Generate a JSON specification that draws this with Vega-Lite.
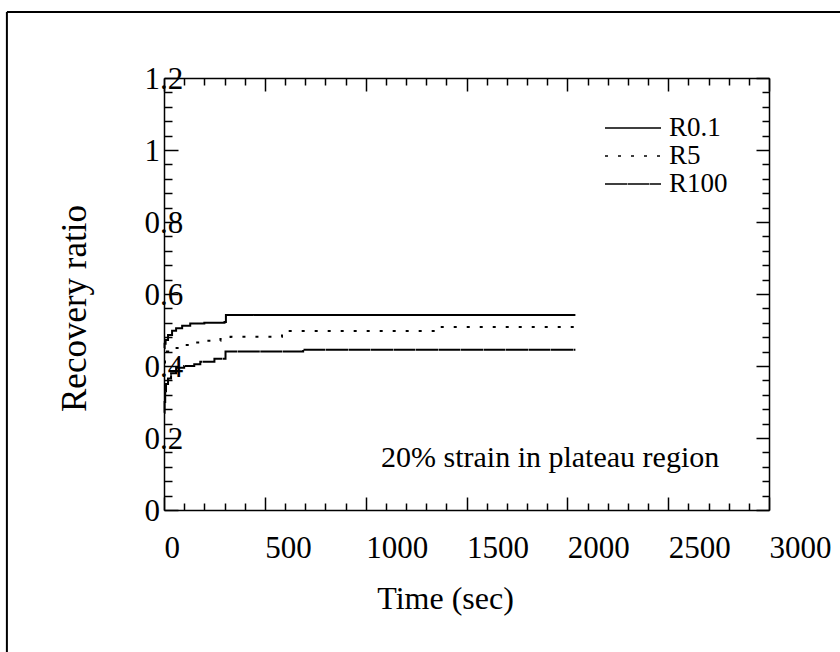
{
  "$schema": "https://vega.github.io/schema/vega-lite/v6.json",
  "usermeta": {"embedOptions": {"actions": false}},
  "width": 605,
  "height": 432,
  "autosize": {"type": "none"},
  "padding": {"left": 164, "top": 78, "right": 71, "bottom": 142},
  "background": "white",
  "config": {
    "view": {"stroke": null},
    "font": "Liberation Serif",
    "axis": {
      "grid": false,
      "domainColor": "black",
      "domainWidth": 1.5,
      "tickColor": "black",
      "tickWidth": 1.5,
      "labelColor": "black",
      "titleColor": "black",
      "labelFont": "Liberation Serif",
      "titleFont": "Liberation Serif",
      "titleFontWeight": "normal",
      "labelFlush": false,
      "labelOverlap": false,
      "labelBound": false
    }
  },
  "datasets": {
    "recovery": [
      {"t": 0, "r": 0.45, "s": "R0.1"},
      {"t": 3, "r": 0.462, "s": "R0.1"},
      {"t": 8, "r": 0.472, "s": "R0.1"},
      {"t": 20, "r": 0.486, "s": "R0.1"},
      {"t": 40, "r": 0.498, "s": "R0.1"},
      {"t": 60, "r": 0.505, "s": "R0.1"},
      {"t": 90, "r": 0.512, "s": "R0.1"},
      {"t": 130, "r": 0.518, "s": "R0.1"},
      {"t": 200, "r": 0.52, "s": "R0.1"},
      {"t": 300, "r": 0.522, "s": "R0.1"},
      {"t": 307, "r": 0.542, "s": "R0.1"},
      {"t": 2040, "r": 0.542, "s": "R0.1"},

      {"t": 0, "r": 0.41, "s": "R5"},
      {"t": 5, "r": 0.425, "s": "R5"},
      {"t": 15, "r": 0.44, "s": "R5"},
      {"t": 40, "r": 0.45, "s": "R5"},
      {"t": 90, "r": 0.458, "s": "R5"},
      {"t": 140, "r": 0.465, "s": "R5"},
      {"t": 200, "r": 0.47, "s": "R5"},
      {"t": 280, "r": 0.475, "s": "R5"},
      {"t": 330, "r": 0.481, "s": "R5"},
      {"t": 585, "r": 0.497, "s": "R5"},
      {"t": 1345, "r": 0.508, "s": "R5"},
      {"t": 2040, "r": 0.508, "s": "R5"},

      {"t": 0, "r": 0.27, "s": "R100"},
      {"t": 3, "r": 0.3, "s": "R100"},
      {"t": 6, "r": 0.33, "s": "R100"},
      {"t": 10, "r": 0.35, "s": "R100"},
      {"t": 20, "r": 0.365, "s": "R100"},
      {"t": 35, "r": 0.38, "s": "R100"},
      {"t": 60, "r": 0.395, "s": "R100"},
      {"t": 100, "r": 0.4, "s": "R100"},
      {"t": 150, "r": 0.405, "s": "R100"},
      {"t": 180, "r": 0.412, "s": "R100"},
      {"t": 250, "r": 0.42, "s": "R100"},
      {"t": 305, "r": 0.44, "s": "R100"},
      {"t": 690, "r": 0.445, "s": "R100"},
      {"t": 2040, "r": 0.445, "s": "R100"}
    ]
  },
  "layer": [
    {
      "description": "Page frame, left edge, carrying the mirrored right axis",
      "data": {"values": [{}]},
      "mark": {"type": "rule", "stroke": "black", "strokeWidth": 2, "clip": false},
      "encoding": {
        "x": {"datum": -779, "type": "quantitative", "scale": {"domain": [0, 3000], "nice": false, "zero": false}, "axis": null},
        "y": {
          "datum": -1,
          "type": "quantitative",
          "scale": {"domain": [0, 1.2], "nice": false, "zero": false},
          "axis": {
            "orient": "right",
            "title": null,
            "labels": false,
            "tickSize": {"condition": {"test": "round(datum.value * 100) % 20 === 0", "value": -13}, "value": -7},
            "values": [0,0.04,0.08,0.12,0.16,0.2,0.24,0.28,0.32,0.36,0.4,0.44,0.48,0.52,0.56,0.6,0.64,0.68,0.72,0.76,0.8,0.84,0.88,0.92,0.96,1,1.04,1.08,1.12,1.16,1.2]
          }
        },
        "y2": {"datum": 1.3833}
      }
    },
    {
      "description": "Page frame, top edge, carrying the mirrored top axis",
      "data": {"values": [{}]},
      "mark": {"type": "rule", "stroke": "black", "strokeWidth": 2, "clip": false},
      "encoding": {
        "x": {
          "datum": -779,
          "type": "quantitative",
          "scale": {"domain": [0, 3000], "nice": false, "zero": false},
          "axis": {
            "orient": "top",
            "title": null,
            "labels": false,
            "tickSize": {"condition": {"test": "datum.value % 500 === 0", "value": -13}, "value": -7},
            "values": [0,100,200,300,400,500,600,700,800,900,1000,1100,1200,1300,1400,1500,1600,1700,1800,1900,2000,2100,2200,2300,2400,2500,2600,2700,2800,2900,3000]
          }
        },
        "x2": {"datum": 4500},
        "y": {"datum": 1.3833, "type": "quantitative", "scale": {"domain": [0, 1.2], "nice": false, "zero": false}, "axis": null}
      }
    },
    {
      "description": "Recovery curves",
      "data": {"name": "recovery"},
      "mark": {"type": "line", "interpolate": "step-after", "color": "black", "strokeWidth": 2},
      "encoding": {
        "x": {
          "field": "t",
          "type": "quantitative",
          "scale": {"domain": [0, 3000], "nice": false, "zero": false},
          "axis": {
            "orient": "bottom",
            "title": "Time (sec)",
            "titleFontSize": 32,
            "titleX": 281,
            "titleY": 98,
            "titleAlign": "center",
            "titleBaseline": "alphabetic",
            "tickSize": {"condition": {"test": "datum.value % 500 === 0", "value": -13}, "value": -7},
            "values": [0,100,200,300,400,500,600,700,800,900,1000,1100,1200,1300,1400,1500,1600,1700,1800,1900,2000,2100,2200,2300,2400,2500,2600,2700,2800,2900,3000],
            "labelExpr": "datum.value % 500 === 0 ? format(datum.value, 'd') : ''",
            "labelAlign": "left",
            "labelBaseline": "alphabetic",
            "labelPadding": 60,
            "labelFontSize": 31
          }
        },
        "y": {
          "field": "r",
          "type": "quantitative",
          "scale": {"domain": [0, 1.2], "nice": false, "zero": false},
          "axis": {
            "orient": "left",
            "title": "Recovery ratio",
            "titleFontSize": 35,
            "titleX": -79,
            "titleY": 230,
            "titleAlign": "center",
            "titleBaseline": "alphabetic",
            "tickSize": {"condition": {"test": "round(datum.value * 100) % 20 === 0", "value": -14}, "value": -8},
            "values": [0,0.04,0.08,0.12,0.16,0.2,0.24,0.28,0.32,0.36,0.4,0.44,0.48,0.52,0.56,0.6,0.64,0.68,0.72,0.76,0.8,0.84,0.88,0.92,0.96,1,1.04,1.08,1.12,1.16,1.2],
            "labelExpr": "round(datum.value * 100) % 20 === 0 ? format(datum.value, '.1~f') : ''",
            "labelAlign": "left",
            "labelBaseline": "alphabetic",
            "labelPadding": 34,
            "labelOffset": 10,
            "labelFontSize": 31
          }
        },
        "strokeDash": {
          "field": "s",
          "type": "nominal",
          "scale": {"domain": ["R0.1", "R5", "R100"], "range": [[1, 0], [3, 10], [22, 0.5]]},
          "legend": {
            "orient": "none",
            "legendX": 454,
            "legendY": 35,
            "title": null,
            "padding": 0,
            "rowPadding": 0,
            "symbolType": "M-2,0H2",
            "symbolSize": 784,
            "symbolStrokeColor": "black",
            "symbolStrokeWidth": 1.5,
            "symbolFillColor": "transparent",
            "labelFont": "Liberation Serif",
            "labelFontSize": 27,
            "labelColor": "black",
            "labelOffset": 21
          }
        }
      }
    },
    {
      "description": "Test condition note",
      "data": {"values": [{}]},
      "mark": {"type": "text", "align": "left", "baseline": "alphabetic", "font": "Liberation Serif", "fontSize": 30, "color": "black"},
      "encoding": {
        "x": {"datum": 1076, "type": "quantitative", "scale": {"domain": [0, 3000], "nice": false, "zero": false}, "axis": null},
        "y": {"datum": 0.119, "type": "quantitative", "scale": {"domain": [0, 1.2], "nice": false, "zero": false}, "axis": null},
        "text": {"value": "20%  strain in plateau region"}
      }
    }
  ],
  "resolve": {"axis": {"x": "independent", "y": "independent"}}
}
